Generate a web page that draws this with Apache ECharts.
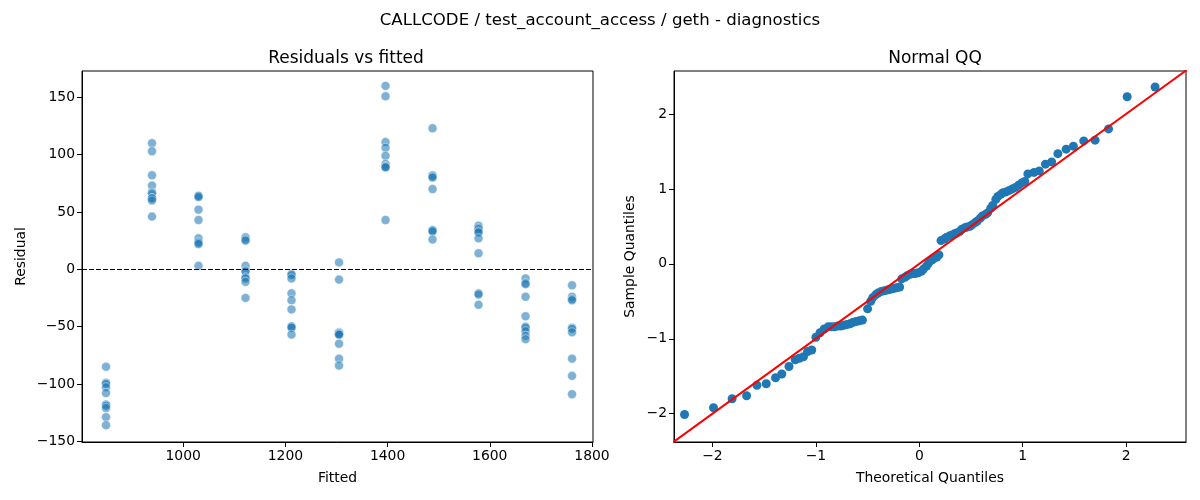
<!DOCTYPE html>
<html>
<head>
<meta charset="utf-8">
<script src="https://cdn.jsdelivr.net/npm/echarts@6/dist/echarts.min.js"></script>
<style>
  html, body { margin: 0; padding: 0; background: #fff; }
  #chart { width: 1200px; height: 500px; }
</style>
</head>
<body>
<div id="chart"></div>
<script>
// ---- 数据:残差 vs 拟合值(每个拟合水平一组残差) ----
var fittedLevels = [849, 939, 1030, 1122, 1212, 1305, 1396, 1488, 1578, 1670, 1761];
var residualsByLevel = [
  [-85, -99, -100, -103, -108, -118, -119, -121, -129, -136],
  [110, 103, 82, 73, 67, 66, 62, 62, 60, 46],
  [64, 64, 63, 52, 43, 27, 24, 23, 22, 3],
  [28, 26, 25, 3, -1, -2, -7, -8, -11, -25],
  [-4, -5, -8, -21, -27, -35, -50, -50, -51, -57],
  [6, -9, -55, -56, -56, -57, -57, -65, -78, -84],
  [160, 151, 111, 106, 99, 92, 90, 89, 89, 43],
  [123, 82, 81, 80, 70, 34, 34, 33, 26],
  [38, 36, 35, 33, 32, 27, 14, -21, -22, -31],
  [-8, -12, -13, -24, -41, -50, -51, -54, -58, -61],
  [-14, -24, -26, -27, -51, -52, -55, -78, -93, -109]
];
var fittedTicks = [1000, 1200, 1400, 1600, 1800];
var residualTicks = [-150, -100, -50, 0, 50, 100, 150];

// ---- 数据:正态 QQ ----
var qqTheoretical = [
  -2.27, -1.99, -1.81, -1.67, -1.57, -1.48, -1.39, -1.33, -1.26, -1.20, -1.16, -1.12, -1.08, -1.04,
  -1.00, -0.96, -0.92, -0.88, -0.85, -0.82, -0.79, -0.76, -0.73, -0.70, -0.67, -0.64, -0.61, -0.58, -0.55,
  -0.50, -0.47, -0.45, -0.42, -0.40, -0.37, -0.34, -0.31, -0.28, -0.25, -0.22, -0.19,
  -0.17, -0.14, -0.12, -0.09, -0.06, -0.04, -0.01, 0.02, 0.04, 0.07, 0.09, 0.12, 0.14, 0.17, 0.19,
  0.21, 0.24, 0.26, 0.29, 0.31, 0.34, 0.36, 0.39, 0.41, 0.44, 0.46, 0.49, 0.51, 0.54, 0.56, 0.59,
  0.61, 0.64, 0.66, 0.69, 0.71, 0.74, 0.76, 0.79, 0.81, 0.84, 0.87, 0.90, 0.93, 0.96, 0.99, 1.02,
  1.05, 1.11, 1.16, 1.22, 1.28, 1.34, 1.42, 1.49, 1.59, 1.70, 1.83, 2.01, 2.28
];
var qqSample = [
  -2.01, -1.92, -1.80, -1.76, -1.62, -1.60, -1.52, -1.47, -1.37, -1.28, -1.26, -1.24, -1.17, -1.15,
  -0.98, -0.92, -0.87, -0.84, -0.84, -0.84, -0.83, -0.83, -0.82, -0.81, -0.80, -0.78, -0.77, -0.76, -0.75,
  -0.60, -0.50, -0.45, -0.41, -0.39, -0.37, -0.36, -0.35, -0.34, -0.33, -0.32, -0.31,
  -0.20, -0.18, -0.16, -0.14, -0.13, -0.13, -0.12, -0.10, -0.07, -0.03, 0.01, 0.05, 0.07, 0.09, 0.12,
  0.31, 0.33, 0.35, 0.37, 0.38, 0.40, 0.41, 0.43, 0.46, 0.48, 0.49, 0.50, 0.52, 0.55, 0.57, 0.61,
  0.64, 0.66, 0.68, 0.74, 0.78, 0.86, 0.90, 0.93, 0.95, 0.96, 0.98, 1.00, 1.02, 1.05, 1.08, 1.10,
  1.20, 1.22, 1.24, 1.33, 1.36, 1.47, 1.53, 1.57, 1.64, 1.65, 1.80, 2.23, 2.36
];
var qqTicks = [-2, -1, 0, 1, 2];
var refLine = [-2.6, 2.8]; // y = x 参考线两端

// ---- 组装 ----
var residPoints = [];
fittedLevels.forEach(function (f, i) {
  residualsByLevel[i].forEach(function (r) { residPoints.push([f, r]); });
});
var qqPoints = qqTheoretical.map(function (x, i) { return [x, qqSample[i]]; });

var FONT = 'DejaVu Sans';
function minus(v) { return String(v).replace('-', '\u2212'); }

function axisBase(ticks, min, max) {
  return {
    type: 'value', min: min, max: max, scale: true,
    axisLine: { show: true, onZero: false, lineStyle: { color: '#000', width: 1 } },
    axisTick: { show: true, inside: false, length: 5, lineStyle: { color: '#000' }, customValues: ticks },
    axisLabel: { show: true, color: '#000', fontFamily: FONT, fontSize: 13.9, margin: 7,
                 customValues: ticks, formatter: minus },
    splitLine: { show: false },
    nameTextStyle: { color: '#000', fontFamily: FONT, fontSize: 13.9 }
  };
}

var chart = echarts.init(document.getElementById('chart'));

var xL = axisBase(fittedTicks, 802, 1802);
xL.gridIndex = 0; xL.name = 'Fitted'; xL.nameLocation = 'middle'; xL.nameGap = 29;
var yL = axisBase(residualTicks, -150.7, 173);
yL.gridIndex = 0; yL.name = 'Residual'; yL.nameLocation = 'middle'; yL.nameGap = 54;
var xR = axisBase(qqTicks, -2.372, 2.579);
xR.gridIndex = 1; xR.name = 'Theoretical Quantiles'; xR.nameLocation = 'middle'; xR.nameGap = 29;
var yR = axisBase(qqTicks, -2.377, 2.573);
yR.gridIndex = 1; yR.name = 'Sample Quantiles'; yR.nameLocation = 'middle'; yR.nameGap = 37;

chart.setOption({
  animation: false,
  backgroundColor: '#fff',
  title: [
    { text: 'CALLCODE / test_account_access / geth - diagnostics', left: 'center', top: 7,
      textStyle: { fontFamily: FONT, fontSize: 16.6, fontWeight: 'normal', color: '#000' } },
    { text: 'Residuals vs fitted', left: 341, top: 45, textAlign: 'center',
      textStyle: { fontFamily: FONT, fontSize: 17, fontWeight: 'normal', color: '#000' } },
    { text: 'Normal QQ', left: 930, top: 45, textAlign: 'center',
      textStyle: { fontFamily: FONT, fontSize: 17, fontWeight: 'normal', color: '#000' } }
  ],
  grid: [
    { left: 82, right: 607, top: 71, bottom: 58, show: true, borderColor: '#000', borderWidth: 1,
      backgroundColor: 'transparent' },
    { left: 674, right: 14, top: 71, bottom: 58, show: true, borderColor: '#000', borderWidth: 1,
      backgroundColor: 'transparent' }
  ],
  xAxis: [xL, xR],
  yAxis: [yL, yR],
  series: [
    {
      type: 'scatter', xAxisIndex: 0, yAxisIndex: 0, data: residPoints,
      symbolSize: 9,
      itemStyle: { color: 'rgba(31,119,180,0.72)', borderColor: 'rgba(255,255,255,0.8)', borderWidth: 0.7 },
      markLine: {
        silent: true, symbol: 'none', label: { show: false },
        lineStyle: { color: '#000', type: [5, 2], width: 1.1 },
        data: [{ yAxis: 0 }]
      },
      z: 3
    },
    {
      type: 'scatter', xAxisIndex: 1, yAxisIndex: 1, data: qqPoints,
      symbolSize: 9,
      itemStyle: { color: '#1f77b4', opacity: 1 },
      z: 3
    },
    {
      type: 'line', xAxisIndex: 1, yAxisIndex: 1,
      data: [[refLine[0], refLine[0]], [refLine[1], refLine[1]]],
      showSymbol: false, symbol: 'none', clip: true,
      lineStyle: { color: '#ff0000', width: 2 },
      z: 4
    }
  ]
});
</script>
</body>
</html>
